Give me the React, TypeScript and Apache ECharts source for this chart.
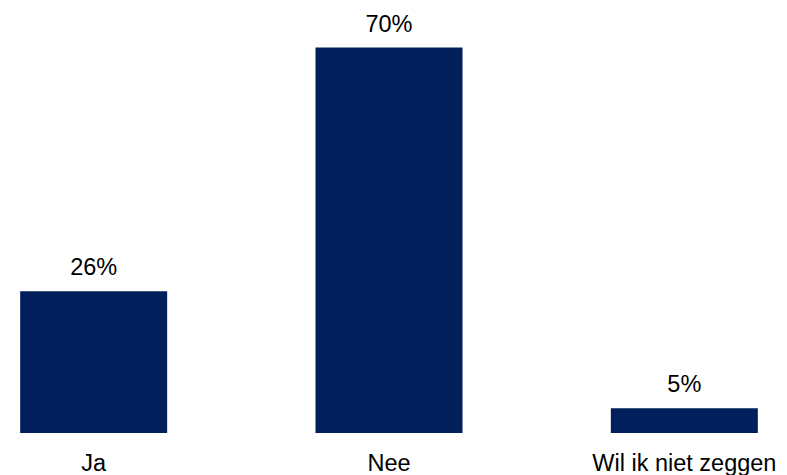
import React, { useEffect, useRef } from "react";
import * as echarts from "echarts";

const categories = ["Ja", "Nee", "Wil ik niet zeggen"];
const values = [25.7, 69.9, 4.5];

export default function App() {
  const ref = useRef<HTMLDivElement>(null);
  useEffect(() => {
    document.body.style.margin = "0";
    document.body.style.overflow = "hidden";
    const chart = echarts.init(ref.current!, null, { renderer: "svg" });
    chart.setOption({
      animation: false,
      backgroundColor: "#ffffff",
      grid: { left: 0, right: 0, top: 47, bottom: 42, containLabel: false },
      xAxis: {
        type: "category",
        data: categories,
        axisLine: { show: false },
        axisTick: { show: false },
        axisLabel: {
          color: "#000000",
          fontFamily: "'Liberation Sans', Arial, sans-serif",
          fontSize: 23.5,
          margin: 18,
          interval: 0,
        },
      },
      yAxis: {
        type: "value",
        min: 0,
        max: 70,
        show: false,
        splitLine: { show: false },
      },
      series: [
        {
          type: "bar",
          data: values,
          barWidth: 147,
          itemStyle: { color: "#001F5B" },
          label: {
            show: true,
            position: "top",
            distance: 12,
            color: "#000000",
            fontFamily: "'Liberation Sans', Arial, sans-serif",
            fontSize: 23.5,
            formatter: (p: any) => Math.round(p.value) + "%",
          },
        },
      ],
    });
    return () => chart.dispose();
  }, []);
  return (
    <div style={{ width: 787, height: 475, overflow: "hidden", position: "relative", background: "#fff" }}>
      <div ref={ref} style={{ width: 886, height: 475, position: "absolute", left: -54, top: 0 }} />
    </div>
  );
}
